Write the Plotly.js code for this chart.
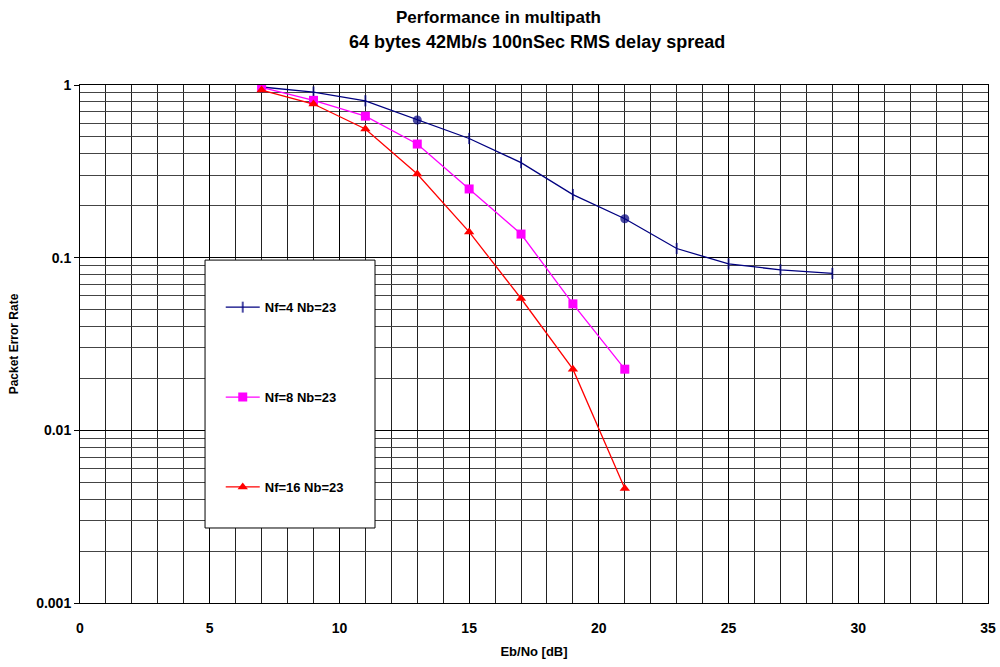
<!DOCTYPE html>
<html><head><meta charset="utf-8">
<script src="https://cdn.plot.ly/plotly-3.0.1.min.js"></script>
<style>html,body{margin:0;padding:0;background:#fff}#chart{width:1000px;height:667px}</style>
</head><body><div id="chart"></div>
<script>
const ebno4 = [7, 9, 11, 13, 15, 17, 19, 21, 23, 25, 27, 29];
const per4 = [0.974, 0.91, 0.81, 0.627, 0.49, 0.355, 0.232, 0.168, 0.113, 0.092, 0.085, 0.081];
const ebno8 = [7, 9, 11, 13, 15, 17, 19, 21];
const per8 = [0.97, 0.815, 0.66, 0.455, 0.25, 0.137, 0.054, 0.0226];
const ebno16 = [7, 9, 11, 13, 15, 17, 19, 21];
const per16 = [0.935, 0.776, 0.556, 0.305, 0.141, 0.058, 0.0226, 0.0046];
const names = ['Nf=4 Nb=23', 'Nf=8 Nb=23', 'Nf=16 Nb=23'];
const titleLines = ['Performance in multipath', '64 bytes 42Mb/s 100nSec RMS delay spread'];

const fam = 'Liberation Sans, Arial, sans-serif';
const sym4 = ebno4.map((v, i) => (i === 3 || i === 7) ? 'circle' : 'line-ns');
const size4 = ebno4.map((v, i) => (i === 3 || i === 7) ? 7 : 8);
const traces = [
  {x: ebno4, y: per4, name: names[0], mode: 'lines+markers', legendgroup: 'a',
   line: {color: '#000080', width: 1.3},
   marker: {symbol: sym4, size: size4, line: {color: '#000080', width: 2}, color: '#000080'}},
  {x: ebno8, y: per8, name: names[1], mode: 'lines+markers', legendgroup: 'b',
   line: {color: '#ff00ff', width: 1.3},
   marker: {symbol: 'square', size: 9, color: '#ff00ff'}},
  {x: ebno16, y: per16, name: names[2], mode: 'lines+markers', legendgroup: 'c',
   line: {color: '#ff0000', width: 1.3},
   marker: {symbol: 'triangle-up', size: 9, color: '#ff0000'}}
];

const layout = {
  width: 1000, height: 667,
  paper_bgcolor: '#fff', plot_bgcolor: '#fff',
  margin: {l: 80, r: 12, t: 85, b: 64},
  font: {family: fam, color: '#000'},
  annotations: [
    {text: '<b>' + titleLines[0] + '</b>', xref: 'paper', yref: 'paper', x: (498 - 80) / 908, y: 1 + (85 - 17) / 518,
     xanchor: 'center', yanchor: 'middle', showarrow: false, font: {family: fam, size: 17, color: '#000'}},
    {text: '<b>' + titleLines[1] + '</b>', xref: 'paper', yref: 'paper', x: (537 - 80) / 908, y: 1 + (85 - 42) / 518,
     xanchor: 'center', yanchor: 'middle', showarrow: false, font: {family: fam, size: 18, color: '#000'}}
  ],
  shapes: [
    {type: 'rect', xref: 'paper', yref: 'paper', x0: 0.1377, x1: 0.3249, y0: 0.1448, y1: 0.662,
     fillcolor: '#fff', line: {color: '#000', width: 1}, layer: 'above'}
  ],
  xaxis: {range: [0, 35], dtick: 5, tick0: 0, showline: true, mirror: true, linecolor: '#000', linewidth: 1,
          showgrid: true, gridcolor: '#000', gridwidth: 1, zeroline: false,
          ticks: '', ticklabelstandoff: 12, tickfont: {family: fam, size: 14, color: '#000', weight: 'bold'},
          minor: {dtick: 1, showgrid: true, gridcolor: '#222', gridwidth: 1},
          title: {text: '<b>Eb/No [dB]</b>', font: {family: fam, size: 13}, standoff: 12}},
  yaxis: {type: 'log', range: [-3, 0], showline: true, mirror: true, linecolor: '#000', linewidth: 1,
          showgrid: true, gridcolor: '#000', gridwidth: 1, zeroline: false,
          ticks: 'outside', ticklen: 5, tickcolor: '#000',
          tickvals: [0.001, 0.01, 0.1, 1], ticktext: ['0.001', '0.01', '0.1', '1'],
          tickfont: {family: fam, size: 14, color: '#000', weight: 'bold'},
          minor: {dtick: 'D1', showgrid: true, gridcolor: '#444', gridwidth: 1},
          title: {text: '<b>Packet Error Rate</b>', font: {family: fam, size: 12}, standoff: 14}},
  legend: {x: 0.155, y: 0.600, xanchor: 'left', yanchor: 'top', bgcolor: 'rgba(0,0,0,0)', borderwidth: 0,
           font: {family: fam, size: 13, color: '#000', weight: 'bold'},
           tracegroupgap: 70, itemwidth: 34},
  showlegend: true
};
Plotly.newPlot('chart', traces, layout, {displayModeBar: false, staticPlot: true});
</script></body></html>
